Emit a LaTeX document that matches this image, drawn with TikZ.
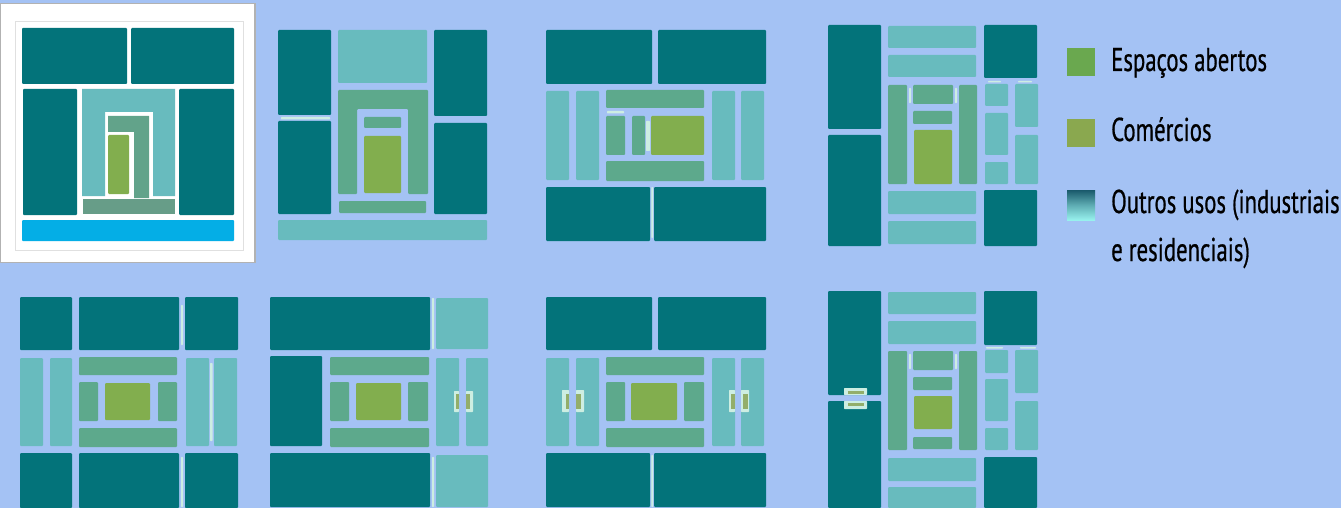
\documentclass[tikz,border=0pt]{standalone}
\usepackage{fontspec}
\setmainfont[FakeStretch=0.69,FakeBold=0.6]{PT Sans}
\definecolor{bgblue}{HTML}{A4C2F4}
\definecolor{dkteal}{HTML}{03737A}
\definecolor{ltteal}{HTML}{68BBBE}
\definecolor{greenteal}{HTML}{5DA98C}
\definecolor{shop}{HTML}{82AE4E}
\definecolor{palegr}{HTML}{CDEEE2}
\definecolor{water}{HTML}{04AEE6}
\definecolor{swopen}{HTML}{6AA84F}
\definecolor{swshop}{HTML}{8AA84F}
\definecolor{swtop}{HTML}{1A5A6C}
\definecolor{swbot}{HTML}{98F2EE}
\definecolor{gateshop}{HTML}{93AE6A}
\tikzset{
  blk/.style={rounded corners=1pt},
  dk/.style={blk,fill=dkteal},
  lt/.style={blk,fill=ltteal},
  gt/.style={blk,fill=greenteal},
  sh/.style={blk,fill=shop},
  pl/.style={fill=palegr,rounded corners=0.7pt},
  gs/.style={fill=gateshop},
  legendlabel/.style={anchor=base west,inner sep=0pt,text=black,font=\fontsize{33}{33}\selectfont},
  swatch/.style={minimum width=28pt,minimum height=28pt,inner sep=0pt,anchor=north west}
}
\newcommand{\Bk}[5]{\path[#5] (#1,#2) rectangle (#3,#4);}
\begin{document}
\begin{tikzpicture}[x=1pt,y=-1pt]
\useasboundingbox (0,0) rectangle (1341,508);
\fill[bgblue] (0,0) rectangle (1341,508);
% panel 1
\path[fill=white,draw=black!30,line width=1.2pt] (0.6,3.5) rectangle (255,262.5);
\path[draw=black!12,line width=1pt] (15,22) rectangle (243,250);
\Bk{22}{28}{127}{84}{dk}\Bk{131}{28}{234}{84}{dk}
\Bk{23}{89}{77}{215}{dk}\Bk{179}{89}{234}{215}{dk}
\path[fill=ltteal] (82,89) -- (175,89) -- (175,196) -- (153,196) -- (153,112) -- (105,112) -- (105,196) -- (82,196) -- cycle;
\path[fill=greenteal!85!gray] (108,116) -- (149,116) -- (149,198) -- (134,198) -- (134,132) -- (108,132) -- cycle;
\Bk{108}{135}{129}{194}{sh}
\path[fill=greenteal!70!gray] (83,199) rectangle (175,214);
\Bk{22}{220}{234}{241}{blk,fill=water}
% panel 2
\Bk{278}{30}{331}{115}{dk}\Bk{278}{121}{331}{214}{dk}
\Bk{338}{30}{427}{83}{lt}
\Bk{434}{30}{487}{116}{dk}\Bk{434}{123}{487}{214}{dk}
\Bk{278}{220}{487}{240}{lt}
\path[gt] (338,90) -- (428,90) -- (428,194) -- (408,194) -- (408,109) -- (357,109) -- (357,194) -- (338,194) -- cycle;
\Bk{364}{117}{401}{128}{gt}\Bk{364}{136}{401}{193}{sh}\Bk{339}{201}{426}{213}{gt}
\Bk{281}{117}{330}{119.5}{pl}
% panel 3
\Bk{546}{30}{652}{84}{dk}\Bk{658}{30}{766}{84}{dk}
\Bk{546}{91}{569}{180}{lt}\Bk{576}{91}{599}{180}{lt}
\Bk{712}{91}{735}{180}{lt}\Bk{741}{91}{764}{180}{lt}
\Bk{606}{90}{704}{108}{gt}\Bk{606}{116}{625}{155}{gt}\Bk{632}{116}{645}{155}{gt}
\Bk{651}{116}{704}{155}{sh}\Bk{606}{161}{704}{181}{gt}
\Bk{607}{111}{624}{113.5}{pl}\Bk{646}{121}{650}{151}{pl}
\Bk{546}{187}{650}{241}{dk}\Bk{654}{187}{766}{241}{dk}\Bk{651.4}{187}{653}{238}{pl}
% panel 4
\Bk{828}{25}{881}{129}{dk}\Bk{828}{135}{881}{246}{dk}
\Bk{888}{26}{976}{48}{lt}\Bk{888}{55}{976}{77}{lt}
\Bk{984}{25}{1037}{78}{dk}\Bk{984}{190}{1037}{246}{dk}
\Bk{888}{85}{907}{184}{gt}\Bk{913}{85}{953}{104}{gt}\Bk{959}{85}{977}{184}{gt}
\Bk{913}{111}{952}{124}{gt}\Bk{914}{130}{952}{184}{sh}
\Bk{909}{88}{911}{103}{pl}\Bk{955}{88}{957}{103}{pl}
\Bk{985}{84}{1008}{106}{lt}\Bk{1015}{84}{1038}{127}{lt}\Bk{985}{113}{1008}{155}{lt}
\Bk{1015}{135}{1038}{184}{lt}\Bk{985}{162}{1008}{184}{lt}
\Bk{988}{81}{1001}{82.5}{pl}\Bk{1018}{81}{1032}{82.5}{pl}
\Bk{888}{191}{976}{214}{lt}\Bk{888}{221}{976}{244}{lt}
% panel 5
\Bk{20}{297}{72}{350}{dk}\Bk{79}{297}{179}{350}{dk}\Bk{185}{297}{238}{350}{dk}
\Bk{20}{358}{43}{446}{lt}\Bk{50}{358}{72}{446}{lt}\Bk{186}{358}{209}{446}{lt}\Bk{214}{358}{237}{446}{lt}
\Bk{79}{357}{177}{375}{gt}\Bk{79}{382}{98}{421}{gt}\Bk{105}{383}{150}{420}{sh}
\Bk{158}{382}{177}{421}{gt}\Bk{79}{428}{177}{447}{gt}
\Bk{20}{453}{72}{508}{dk}\Bk{79}{453}{179}{508}{dk}\Bk{185}{453}{238}{508}{dk}
\Bk{181}{305}{183}{345}{pl}\Bk{181}{457}{183}{507}{pl}\Bk{210}{363}{212.5}{441}{pl}
% panel 6
\Bk{270}{297}{430}{350}{dk}\Bk{436}{298}{488}{349}{lt}\Bk{270}{356}{322}{446}{dk}
\Bk{330}{357}{429}{375}{gt}\Bk{330}{382}{349}{421}{gt}\Bk{356}{383}{401}{420}{sh}
\Bk{408}{382}{428}{421}{gt}\Bk{330}{428}{429}{447}{gt}
\Bk{436}{358}{459}{446}{lt}\Bk{466}{358}{488}{446}{lt}
\Bk{270}{453}{430}{507}{dk}\Bk{436}{455}{488}{507}{lt}
\Bk{432}{298}{434}{349}{pl}\Bk{432}{457}{434}{507}{pl}
\Bk{454}{391}{459}{412}{pl}\Bk{456}{394}{459}{409}{gs}
\Bk{466}{391}{473}{412}{pl}\Bk{466}{394}{470}{409}{gs}
% panel 7
\Bk{546}{297}{652}{350}{dk}\Bk{658}{297}{766}{350}{dk}
\Bk{546}{358}{569}{446}{lt}\Bk{576}{358}{599}{446}{lt}\Bk{712}{358}{735}{446}{lt}\Bk{741}{358}{764}{446}{lt}
\Bk{606}{357}{704}{375}{gt}\Bk{606}{382}{625}{421}{gt}\Bk{631}{383}{677}{420}{sh}
\Bk{684}{382}{704}{421}{gt}\Bk{606}{428}{704}{447}{gt}
\Bk{546}{453}{650}{507}{dk}\Bk{654}{453}{766}{507}{dk}\Bk{651.4}{455}{653}{507}{pl}
\Bk{562}{390}{569}{412}{pl}\Bk{566}{394}{569}{409}{gs}
\Bk{576}{390}{584}{412}{pl}\Bk{576}{394}{581}{409}{gs}
\Bk{729}{390}{735}{412}{pl}\Bk{731}{394}{735}{409}{gs}
\Bk{741}{390}{749}{412}{pl}\Bk{743}{394}{748}{409}{gs}
% panel 8
\Bk{828}{291}{881}{395}{dk}\Bk{828}{401}{881}{508}{dk}
\Bk{888}{292}{976}{314}{lt}\Bk{888}{321}{976}{344}{lt}
\Bk{984}{291}{1037}{345}{dk}\Bk{984}{457}{1037}{508}{dk}
\Bk{888}{351}{907}{450}{gt}\Bk{913}{351}{953}{370}{gt}\Bk{959}{351}{977}{450}{gt}
\Bk{913}{377}{952}{390}{gt}\Bk{914}{396}{952}{429}{sh}\Bk{913}{437}{952}{449}{gt}
\Bk{909}{354}{911}{369}{pl}\Bk{955}{354}{957}{369}{pl}
\Bk{985}{350}{1008}{373}{lt}\Bk{1015}{350}{1038}{393}{lt}\Bk{985}{379}{1008}{421}{lt}
\Bk{1015}{401}{1038}{450}{lt}\Bk{985}{428}{1008}{450}{lt}
\Bk{986}{347}{1003}{348.5}{pl}\Bk{1020}{347}{1036}{348.5}{pl}
\Bk{888}{458}{976}{481}{lt}\Bk{888}{487}{976}{508}{lt}
\Bk{844}{388}{867}{395}{pl}\Bk{848}{391}{864}{394}{gs}
\Bk{844}{401}{867}{409}{pl}\Bk{848}{403}{864}{406}{gs}
% legend
\node[swatch,fill=swopen] (swa) at (1067,48) {};
\node[swatch,fill=swshop] (swb) at (1067,119) {};
\node[swatch,minimum height=30pt,top color=swtop,bottom color=swbot,middle color=swtop!45!swbot] (swc) at (1067,190) {};
\node[legendlabel] (la) at (1111,71) {Espaços abertos};
\node[legendlabel] (lb) at (1111,141) {Comércios};
\node[legendlabel] (lc) at (1111,213) {Outros usos (industriais};
\node[legendlabel] (ld) at (1111,261) {e residenciais)};
\end{tikzpicture}
\end{document}
